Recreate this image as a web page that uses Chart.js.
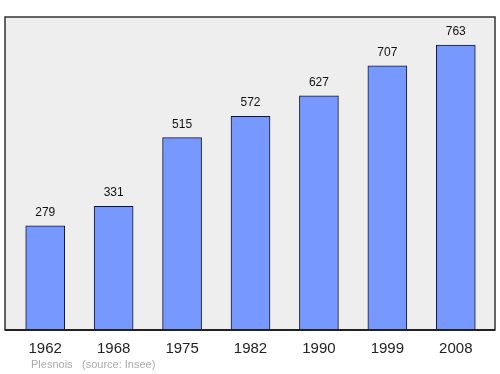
<!DOCTYPE html>
<html>
<head>
<meta charset="utf-8">
<script src="https://cdn.jsdelivr.net/npm/chart.js@4/dist/chart.umd.min.js"></script>
<style>
  body { margin: 0; background: #fff; }
  #wrap { width: 500px; height: 374px; }
</style>
</head>
<body>
<div id="wrap"><canvas id="myChart" width="500" height="374"></canvas></div>
<script>
// population by census year
const years = ['1962', '1968', '1975', '1982', '1990', '1999', '2008'];
const population = [279, 331, 515, 572, 627, 707, 763];
const yMax = 838;

// grey frame behind the bars
const frame = {
    id: 'frame',
    beforeDraw(chart) {
        const ctx = chart.ctx;
        const a = chart.chartArea;
        ctx.save();
        ctx.fillStyle = '#eeeeee';
        ctx.fillRect(5, a.top, 490, a.bottom - a.top);
        ctx.strokeStyle = '#333333';
        ctx.lineWidth = 1.5;
        ctx.strokeRect(5, a.top, 490, a.bottom - a.top);
        ctx.restore();
    },
    afterDraw(chart) {
        const ctx = chart.ctx;
        const a = chart.chartArea;
        const x = chart.scales.x;
        ctx.save();
        // bottom line drawn on top of the bars
        ctx.strokeStyle = '#222222';
        ctx.lineWidth = 2;
        ctx.beginPath();
        ctx.moveTo(5, a.bottom);
        ctx.lineTo(495, a.bottom);
        ctx.stroke();

        // values above bars
        ctx.fillStyle = '#111111';
        ctx.font = '12px "Liberation Sans", Arial, sans-serif';
        ctx.textAlign = 'center';
        ctx.textBaseline = 'alphabetic';
        chart.getDatasetMeta(0).data.forEach((bar, i) => {
            ctx.fillText(population[i], bar.x, bar.y - 10);
        });

        // year labels
        ctx.font = '15px "Liberation Sans", Arial, sans-serif';
        ctx.fillStyle = '#222222';
        years.forEach((y, i) => {
            ctx.fillText(y, x.getPixelForValue(i), a.bottom + 23);
        });

        // source line
        ctx.font = '11px "Liberation Sans", Arial, sans-serif';
        ctx.fillStyle = '#aaaaaa';
        ctx.textAlign = 'left';
        ctx.fillText('Plesnois', 31, 368);
        ctx.fillText('(source: Insee)', 82, 368);
        ctx.restore();
    }
};

const data = {
    labels: years,
    datasets: [{
        data: population,
        backgroundColor: '#7799ff',
        borderColor: '#141430',
        borderWidth: 1,
        borderSkipped: 'bottom',
        barThickness: 39
    }]
};

const config = {
    type: 'bar',
    data: data,
    options: {
        responsive: false,
        devicePixelRatio: 1,
        animation: false,
        layout: {
            padding: { left: 11, right: 10, top: 17, bottom: 44 }
        },
        plugins: {
            legend: { display: false },
            tooltip: { enabled: false }
        },
        scales: {
            x: { display: false },
            y: { display: false, min: 0, max: yMax }
        }
    },
    plugins: [frame]
};

new Chart(document.getElementById('myChart'), config);
</script>
</body>
</html>
